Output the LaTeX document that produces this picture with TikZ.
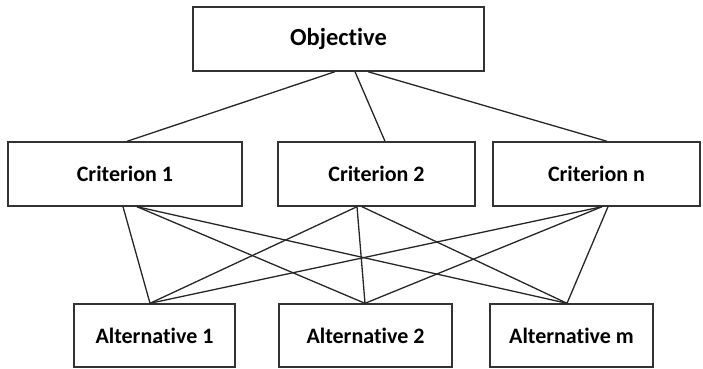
\documentclass[tikz,border=0pt]{standalone}
\usepackage{fontspec}
\setmainfont[Ligatures=NoCommon]{Carlito}
\usetikzlibrary{calc}
\begin{document}
\begin{tikzpicture}[x=1pt,y=-1pt,
  box/.style={draw=black!80, line width=1.4pt, fill=white, inner sep=0pt,
    font=\fontsize{22}{26}\selectfont\bfseries},
  link/.style={draw=black!85, line width=1.3pt}]
\useasboundingbox (0,0) rectangle (703,368);
\node[box, minimum width=291pt, minimum height=64pt, font=\fontsize{24.5}{29}\selectfont\bfseries] (obj) at (338.5,39) {Objective};
\node[box, minimum width=234pt, minimum height=64pt] (c1) at (125,174) {Criterion 1};
\node[box, minimum width=197pt, minimum height=64pt] (c2) at (376.5,174) {Criterion 2};
\node[box, minimum width=207pt, minimum height=64pt] (cn) at (596.5,174) {Criterion n};
\node[box, minimum width=161pt, minimum height=63pt] (a1) at (154.5,335.5) {Alternative 1};
\node[box, minimum width=173pt, minimum height=63pt] (a2) at (365.5,335.5) {Alternative 2};
\node[box, minimum width=163pt, minimum height=63pt] (am) at (571.5,335.5) {Alternative m};
% objective to criteria
\draw[link] ([xshift=-3.5pt]obj.south) -- ([xshift=2pt]c1.north);
\draw[link] ([xshift=16.5pt]obj.south) -- ([xshift=8.5pt]c2.north);
\draw[link] ([xshift=29.5pt]obj.south) -- ([xshift=10.5pt]cn.north);
% criterion 1 to alternatives
\draw[link] ([xshift=-2pt]c1.south) -- ([xshift=-4.5pt]a1.north);
\draw[link] ([xshift=12pt]c1.south) -- ([xshift=-0.5pt]a2.north);
\draw[link] ([xshift=12pt]c1.south) -- ([xshift=-4.5pt]am.north);
% criterion 2 to alternatives
\draw[link] ([xshift=-19.5pt]c2.south) -- ([xshift=-4.5pt]a1.north);
\draw[link] ([xshift=-19.5pt]c2.south) -- ([xshift=-0.5pt]a2.north);
\draw[link] ([xshift=-14.5pt]c2.south) -- ([xshift=-4.5pt]am.north);
% criterion n to alternatives
\draw[link] ([xshift=5.5pt]cn.south) -- ([xshift=-4.5pt]a1.north);
\draw[link] ([xshift=5.5pt]cn.south) -- ([xshift=-0.5pt]a2.north);
\draw[link] ([xshift=11.5pt]cn.south) -- ([xshift=-4.5pt]am.north);
\end{tikzpicture}
\end{document}
